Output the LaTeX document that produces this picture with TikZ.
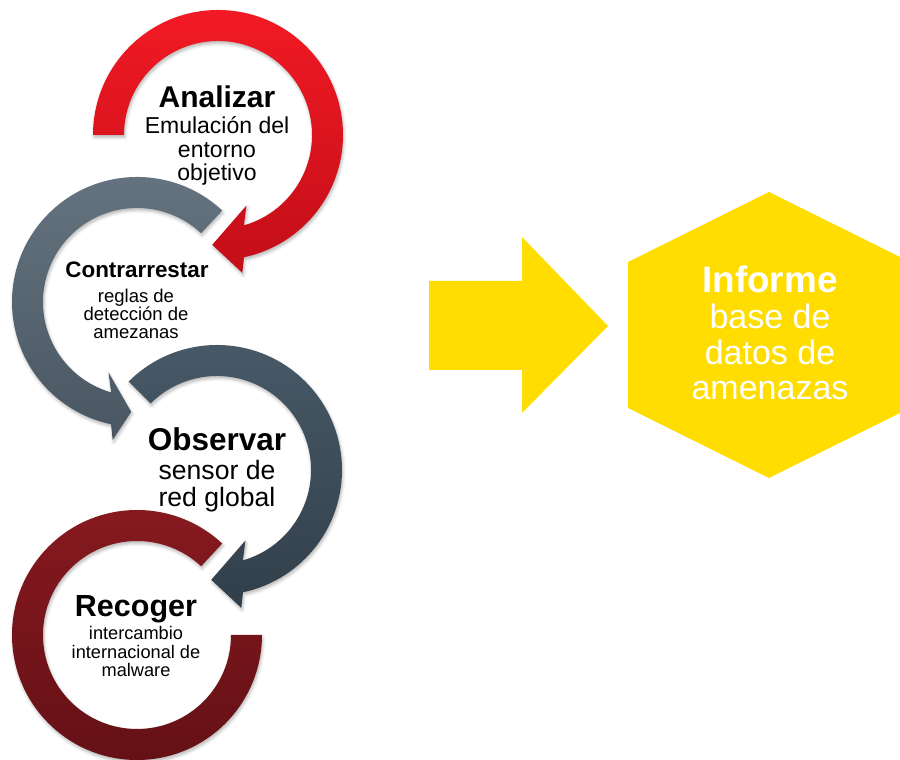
\documentclass[tikz,border=0pt]{standalone}
\usepackage{fontspec}
\setmainfont{Liberation Sans}
\usetikzlibrary{shadows.blur}
\definecolor{redTop}{RGB}{242,26,36}
\definecolor{redBot}{RGB}{194,14,24}
\definecolor{greyTop}{RGB}{101,116,128}
\definecolor{greyBot}{RGB}{74,87,98}
\definecolor{obsTop}{RGB}{72,90,104}
\definecolor{obsBot}{RGB}{49,63,74}
\definecolor{recTop}{RGB}{136,26,32}
\definecolor{recBot}{RGB}{98,16,21}
\definecolor{yel}{RGB}{255,221,0}
\tikzset{
  ringshadow/.style={blur shadow={shadow xshift=1pt, shadow yshift=-2.5pt, shadow blur radius=3pt, shadow opacity=28}},
  redring/.style={ringshadow, top color=redTop, bottom color=redBot},
  greyring/.style={ringshadow, top color=greyTop, bottom color=greyBot},
  obsring/.style={ringshadow, top color=obsTop, bottom color=obsBot},
  recring/.style={ringshadow, top color=recTop, bottom color=recBot},
  ttl/.style={inner sep=0pt, anchor=base, font=\bfseries},
  bdy/.style={inner sep=0pt, anchor=base, align=center},
  yshape/.style={fill=yel, draw=none},
}
\begin{document}
\begin{tikzpicture}
\useasboundingbox (0pt,0pt) rectangle (900pt,760pt);
% ring centres
\coordinate (cR) at (218pt,625pt);
\coordinate (cG) at (137pt,458pt);
\coordinate (cO) at (217pt,290pt);
\coordinate (cC) at (137pt,125pt);
% Recoger ring
\begin{scope}[shift={(cC)}]
\path[recring] (47:125pt) arc[start angle=47, end angle=360, radius=125pt]
  -- (0:94pt) arc[start angle=360, end angle=47, radius=94pt] -- cycle;
\end{scope}
% Observar arrow
\begin{scope}[shift={(cO)}]
\path[obsring] (135:125pt) arc[start angle=135, end angle=-78, radius=125pt]
  -- (-80:140pt) -- (-93:110pt) -- (-68:76pt) -- (-74:94pt)
  arc[start angle=-74, end angle=135, radius=94pt] -- cycle;
\end{scope}
% Contrarrestar arrow
\begin{scope}[shift={(cG)}]
\path[greyring] (47:125pt) arc[start angle=47, end angle=258, radius=125pt]
  -- (260:140pt) -- (267:110pt) -- (248:76pt) -- (254:94pt)
  arc[start angle=254, end angle=47, radius=94pt] -- cycle;
\end{scope}
% Analizar arrow
\begin{scope}[shift={(cR)}]
\path[redring] (180:125pt) arc[start angle=180, end angle=-78, radius=125pt]
  -- (-80:140pt) -- (-93:110pt) -- (-68:76pt) -- (-74:94pt)
  arc[start angle=-74, end angle=180, radius=94pt] -- cycle;
\end{scope}
% texts (multi-line nodes: base = last line)
\node[ttl, font=\fontsize{30pt}{34pt}\selectfont\bfseries] (tA) at (217pt,652pt) {Analizar};
\node[bdy, font=\fontsize{23pt}{23.5pt}\selectfont] (bA) at (217pt,579pt) {Emulación del\\entorno\\objetivo};
\node[ttl, font=\fontsize{22.4pt}{26pt}\selectfont\bfseries] (tG) at (137pt,482pt) {Contrarrestar};
\node[bdy, font=\fontsize{18.5pt}{18pt}\selectfont] (bG) at (136pt,421pt) {reglas de\\detección de\\amezanas};
\node[ttl, font=\fontsize{31.5pt}{36pt}\selectfont\bfseries] (tO) at (217pt,309pt) {Observar};
\node[bdy, font=\fontsize{26.6pt}{27pt}\selectfont] (bO) at (217pt,253pt) {sensor de\\red global};
\node[ttl, font=\fontsize{30.5pt}{35pt}\selectfont\bfseries] (tC) at (136pt,143pt) {Recoger};
\node[bdy, font=\fontsize{18.2pt}{18.5pt}\selectfont] (bC) at (136pt,83pt) {intercambio\\internacional de\\malware};
% yellow arrow
\path[yshape] (429pt,479pt) -- (522pt,479pt) -- (522pt,523pt) -- (608pt,434pt)
  -- (522pt,347pt) -- (522pt,390pt) -- (429pt,390pt) -- cycle;
% hexagon
\begin{scope}
\clip (0pt,0pt) rectangle (900pt,760pt);
\path[yshape] (769pt,568pt) -- (628pt,498pt) -- (628pt,352pt) -- (769pt,282pt)
  -- (910pt,352pt) -- (910pt,498pt) -- cycle;
\end{scope}
\node[ttl, text=white, font=\fontsize{36.8pt}{40pt}\selectfont\bfseries] (tI) at (770pt,467pt) {Informe};
\node[bdy, text=white, font=\fontsize{34pt}{35.5pt}\selectfont] (bI) at (770pt,360pt) {base de\\datos de\\amenazas};
\end{tikzpicture}
\end{document}
